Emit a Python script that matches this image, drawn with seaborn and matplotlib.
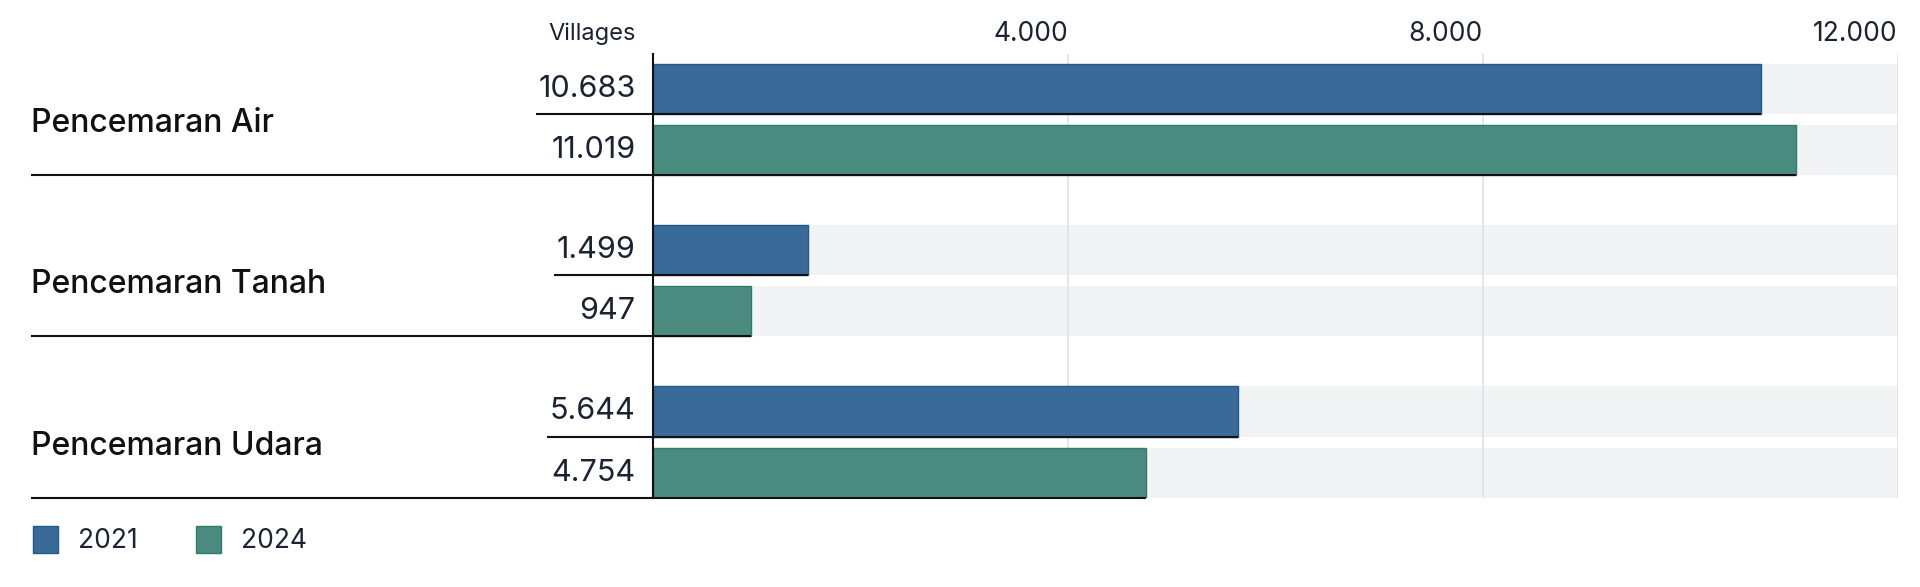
import matplotlib.pyplot as plt
import matplotlib.transforms as mtransforms
from matplotlib.patches import Patch
import pandas as pd
import seaborn as sns

sns.set_theme(style='white')
plt.rcParams['font.family'] = ['Inter', 'DejaVu Sans']

categories = ['Pencemaran Air', 'Pencemaran Tanah', 'Pencemaran Udara']
years = ['2021', '2024']
values_2021 = [10683, 1499, 5644]
values_2024 = [11019, 947, 4754]
ticks = [4000, 8000, 12000]
x_max = 12000

colors = {'2021': '#3a6a98', '2024': '#4b8a7e'}
edges = {'2021': '#1f5a8f', '2024': '#2e7d6c'}
text_col = '#1b2333'

df = pd.DataFrame({
    'category': categories * 2,
    'year': ['2021'] * 3 + ['2024'] * 3,
    'value': values_2021 + values_2024,
})
df_bg = df.assign(value=x_max)

fig = plt.figure(figsize=(19.2, 5.87), dpi=100)
ax = fig.add_axes([0.340, 0.152, 0.6485, 0.7563])

# grey tracks behind the bars
sns.barplot(data=df_bg, y='category', x='value', hue='year', orient='h',
            palette=['#f2f3f5', '#f2f3f5'], width=0.758, gap=0.18, saturation=1,
            linewidth=0, legend=False, ax=ax)
n_bg = len(ax.patches)
sns.barplot(data=df, y='category', x='value', hue='year', orient='h',
            palette=colors, width=0.758, gap=0.18, saturation=1,
            legend=False, ax=ax)

for p in ax.patches[:n_bg]:
    p.set_zorder(1)
data_patches = ax.patches[n_bg:]
for i, p in enumerate(data_patches):
    yr = years[i // 3]
    p.set_edgecolor(edges[yr])
    p.set_linewidth(1.0)
    p.set_zorder(3)

for t in ticks:
    ax.axvline(t, color='#dfe1e5', lw=1.2, zorder=2)

ax.set_xlim(0, x_max)
ax.set_ylim(2.345, -0.405)
ax.xaxis.tick_top()
ax.set_xticks(ticks)
ax.set_xticklabels([f'{t:,}'.replace(',', '.') for t in ticks], ha='right',
                   fontsize=19, color=text_col)
ax.tick_params(axis='x', length=0, pad=5)
ax.set_yticks([])
ax.set_xlabel('')
ax.set_ylabel('')
for s in ['top', 'right', 'bottom']:
    ax.spines[s].set_visible(False)
ax.spines['left'].set_color('#111111')
ax.spines['left'].set_linewidth(1.5)
ax.spines['left'].set_zorder(5)

trans = mtransforms.blended_transform_factory(ax.transAxes, ax.transData)
ftrans = mtransforms.blended_transform_factory(fig.transFigure, ax.transData)
label_x = -0.0138

ax.text(label_x, 1.045, 'Villages', transform=ax.transAxes, ha='right',
        va='center', fontsize=17, color=text_col)

fig.canvas.draw()
renderer = fig.canvas.get_renderer()
inv = ax.transAxes.inverted()

for i, p in enumerate(data_patches):
    yr = years[i // 3]
    val = df['value'].iloc[i]
    yc = p.get_y() + p.get_height() / 2
    ybot = p.get_y() + p.get_height()
    txt = ax.text(label_x, yc, f'{val:,}'.replace(',', '.'), transform=trans,
                  ha='right', va='center', fontsize=22, color=text_col)
    end_ax = inv.transform(ax.transData.transform((val, ybot)))[0]
    if yr == '2021':
        bb = txt.get_window_extent(renderer)
        start = inv.transform((bb.x0, 0))[0] - 0.002
    else:
        start = inv.transform(fig.transFigure.transform((0.016, 0)))[0]
    ax.plot([start, end_ax], [ybot, ybot], transform=trans, color='#111111',
            lw=1.5, clip_on=False, zorder=6, solid_capstyle='butt')

for g, cat in enumerate(categories):
    fig.text(0.016, g + 0.025, cat, transform=ftrans, ha='left', va='center',
             fontsize=23, fontweight='medium', color='#111111')

handles = [Patch(facecolor=colors[y], edgecolor=edges[y], label=y) for y in years]
fig.legend(handles=handles, loc='lower left', bbox_to_anchor=(0.005, 0.015),
           ncol=2, frameon=False, fontsize=19, handlelength=0.95, handleheight=1.2,
           columnspacing=2.2, handletextpad=0.75, labelcolor=text_col)

fig.savefig('out.png', dpi=100, facecolor='white')
